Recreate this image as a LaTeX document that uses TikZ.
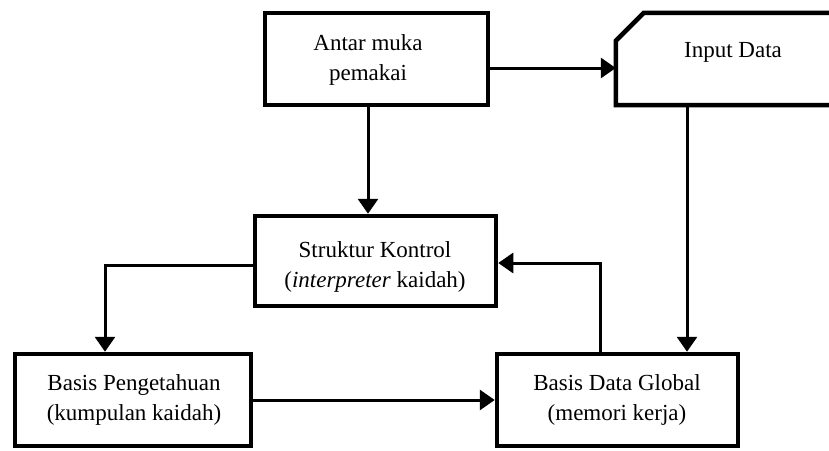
\documentclass[tikz,border=0pt]{standalone}
\usepackage{fontspec}
\setmainfont{Liberation Serif}
\usetikzlibrary{arrows.meta}
\begin{document}
\begin{tikzpicture}[x=1pt,y=-1pt,
  box/.style={draw,line width=4.5pt,rectangle,inner sep=0pt,minimum width=#1,minimum height=92pt},
  txt/.style={align=center,font=\fontsize{23}{30}\selectfont,inner sep=0pt},
  conn/.style={line width=3pt,-{Triangle[length=15pt,width=20pt]}}]
\useasboundingbox (0,0) rectangle (829,450);
\clip (0,0) rectangle (829,450);
\node[box=223pt] (b1) at (376.5,59) {};
\node[rectangle,inner sep=0pt,minimum width=254pt,minimum height=92pt] (id) at (743,59) {};
\draw[line width=4.5pt,line join=miter] (id.south west) -- ([yshift=-28pt]id.north west)
  -- ([xshift=28pt]id.north west) -- (id.north east) -- (id.south east) -- cycle;
\node[box=241pt,minimum height=90pt] (sk) at (375.5,261) {};
\node[box=236pt] (bp) at (133,400) {};
\node[box=241pt] (bd) at (617.5,400) {};
\node[txt] (t1) at (368,60) {Antar muka\\pemakai};
\node[txt] (t2) at (733,52) {Input Data};
\node[txt] (t3) at (375,267) {Struktur Kontrol\\(\textit{interpreter} kaidah)};
\node[txt] (t4) at (134,400) {Basis Pengetahuan\\(kumpulan kaidah)};
\node[txt] (t5) at (617,400) {Basis Data Global\\(memori kerja)};
\draw[conn] ([yshift=-9pt]b1.east) -- ([yshift=-9pt]b1.east -| id.west);
\draw[conn] ([xshift=-8.5pt]b1.south) -- ([xshift=-8.5pt]b1.south |- sk.north);
\draw[conn] ([yshift=-4pt]sk.west) -| ([xshift=-28pt]bp.north);
\draw[conn] ([xshift=69.5pt]bd.north |- id.south) -- ([xshift=69.5pt]bd.north);
\draw[conn] ([xshift=-17.5pt]bd.north) |- ([yshift=-2pt]sk.east);
\draw[conn] (bp.east) -- (bd.west);
\end{tikzpicture}
\end{document}
